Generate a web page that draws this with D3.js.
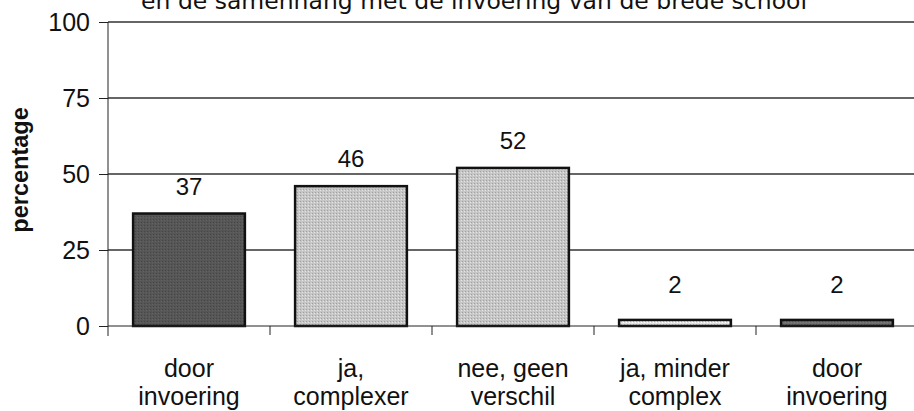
<!DOCTYPE html>
<html>
<head>
<meta charset="utf-8">
<script src="https://cdn.jsdelivr.net/npm/d3@7"></script>
<style>
  body { margin: 0; background: #fff; }
  svg { display: block; }
</style>
</head>
<body>
<div id="chart"></div>
<script>
var width = 914, height = 411;
var margin = { top: 22, right: -4, bottom: 85, left: 108 };

var title = "en de samenhang met de invoering van de brede school";
var categories = ["door invoering", "ja, complexer", "nee, geen verschil", "ja, minder complex", "door invoering 2"];
var catLines = [["door", "invoering"], ["ja,", "complexer"], ["nee, geen", "verschil"], ["ja, minder", "complex"], ["door", "invoering"]];
var values = [37, 46, 52, 2, 2];
var fills = ["#565656", "#c6c6c6", "#c6c6c6", "#e2e2e2", "#6e6e6e"];
var yTicks = [0, 25, 50, 75, 100];

var font = "Liberation Sans, Arial, sans-serif";

var svg = d3.select("#chart").append("svg")
    .attr("width", width)
    .attr("height", height);

var x = d3.scaleBand()
    .domain(categories)
    .range([margin.left, width - margin.right])
    .paddingInner(0.31)
    .paddingOuter(0.155);

var y = d3.scaleLinear()
    .domain([0, 100])
    .range([height - margin.bottom, margin.top]);

// stipple pattern for the bars
var defs = svg.append("defs");
fills.forEach(function(c, i) {
    var p = defs.append("pattern")
        .attr("id", "dots" + i)
        .attr("width", 3).attr("height", 3)
        .attr("patternUnits", "userSpaceOnUse");
    p.append("rect").attr("width", 3).attr("height", 3).attr("fill", c);
    p.append("rect").attr("x", 0).attr("y", 0).attr("width", 1).attr("height", 1)
        .attr("fill", d3.color(c).darker(0.6));
    p.append("rect").attr("x", 2).attr("y", 1).attr("width", 1).attr("height", 1)
        .attr("fill", d3.color(c).brighter(0.4));
});

// title (cut off at the top in the original too)
svg.append("text")
    .attr("x", 474)
    .attr("y", 9)
    .attr("text-anchor", "middle")
    .style("font-family", "DejaVu Sans, Verdana, sans-serif")
    .style("font-size", "23.5px")
    .attr("fill", "#111")
    .text(title);

// gridlines
svg.append("g")
    .selectAll("line")
    .data(yTicks.filter(function(d) { return d > 0; }))
    .enter().append("line")
    .attr("x1", margin.left)
    .attr("x2", width)
    .attr("y1", function(d) { return y(d); })
    .attr("y2", function(d) { return y(d); })
    .attr("stroke", "#333")
    .attr("stroke-width", 1.3);

// y axis
var yAxis = svg.append("g")
    .attr("transform", "translate(" + margin.left + ",0)")
    .call(d3.axisLeft(y).tickValues(yTicks).tickSize(9).tickPadding(9));
yAxis.select(".domain").remove();
yAxis.selectAll(".tick line").attr("stroke", "#222");
yAxis.selectAll("text")
    .style("font-family", font)
    .style("font-size", "25px")
    .attr("fill", "#111");
svg.append("line")
    .attr("x1", margin.left).attr("x2", margin.left)
    .attr("y1", y(100)).attr("y2", y(0) + 10)
    .attr("stroke", "#222");

// bars
svg.append("g")
    .selectAll("rect")
    .data(values)
    .enter().append("rect")
    .attr("x", function(d, i) { return x(categories[i]); })
    .attr("y", function(d) { return y(d); })
    .attr("width", x.bandwidth())
    .attr("height", function(d) { return y(0) - y(d); })
    .attr("fill", function(d, i) { return "url(#dots" + i + ")"; })
    .attr("stroke", "#111")
    .attr("stroke-width", 2.5);

// x axis
svg.append("line")
    .attr("x1", margin.left).attr("x2", width)
    .attr("y1", y(0)).attr("y2", y(0))
    .attr("stroke", "#222");
svg.append("g")
    .selectAll("line")
    .data(categories.slice(1))
    .enter().append("line")
    .attr("x1", function(d) { return x(d) - x.step() * x.paddingInner() / 2; })
    .attr("x2", function(d) { return x(d) - x.step() * x.paddingInner() / 2; })
    .attr("y1", y(0))
    .attr("y2", y(0) + 9)
    .attr("stroke", "#222");

// value labels
svg.append("g")
    .selectAll("text")
    .data(values)
    .enter().append("text")
    .attr("x", function(d, i) { return x(categories[i]) + x.bandwidth() / 2; })
    .attr("y", function(d) { return Math.min(y(d) - 19, y(0) - 33); })
    .attr("text-anchor", "middle")
    .style("font-family", font)
    .style("font-size", "24px")
    .attr("fill", "#111")
    .text(function(d) { return d; });

// category labels
var cl = svg.append("g")
    .selectAll("text")
    .data(catLines)
    .enter().append("text")
    .attr("text-anchor", "middle")
    .style("font-family", font)
    .style("font-size", "25px")
    .attr("fill", "#111");
cl.each(function(d, i) {
    var t = d3.select(this);
    var cx = x(categories[i]) + x.bandwidth() / 2;
    d.forEach(function(line, j) {
        t.append("tspan").attr("x", cx).attr("y", 377 + j * 28).text(line);
    });
});

// y axis title
svg.append("text")
    .attr("transform", "translate(28,170) rotate(-90)")
    .attr("text-anchor", "middle")
    .style("font-family", font)
    .style("font-size", "23.5px")
    .style("font-weight", "bold")
    .attr("fill", "#111")
    .text("percentage");
</script>
</body>
</html>
